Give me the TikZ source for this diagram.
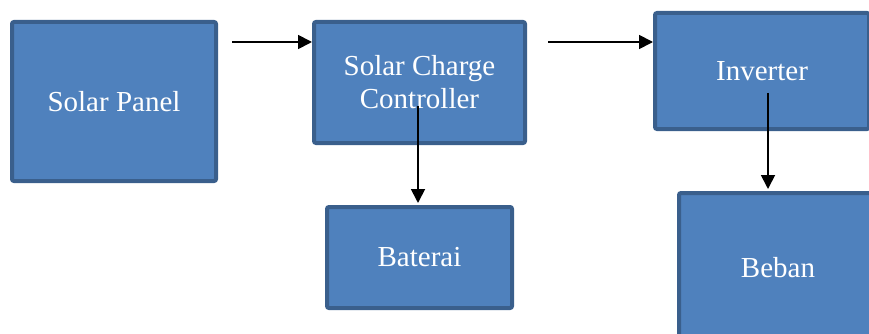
\documentclass[tikz,border=0pt]{standalone}
\usepackage{fontspec}
\setmainfont{Liberation Serif}
\usetikzlibrary{arrows.meta,positioning,calc}
\definecolor{boxfill}{HTML}{4F81BD}
\definecolor{boxline}{HTML}{3A5F8C}

\begin{document}
\begin{tikzpicture}[x=1pt, y=-1pt,
    block/.style={draw=boxline, fill=boxfill, line width=4pt, rounded corners=2pt,
      text=white, align=center, font=\fontsize{29}{33}\selectfont},
    flow/.style={-{Triangle[length=14pt,width=14pt]}, line width=1.8pt}]
            \useasboundingbox (0,0) rectangle (869,334);
            \clip (0,0) rectangle (869,334);
            % Panel
            \node[block, minimum width=204pt, minimum height=159pt] (panel) at (114,101.5) {Solar Panel};
            % Controller
            \node[block, minimum width=211pt, minimum height=121pt] (scc) at (419.5,82.5) {Solar Charge\\Controller};
            % Inverter
            \node[block, minimum width=214pt, minimum height=116pt] (inv) at (762,71) {Inverter};
            % Battery and load
            \node[block, minimum width=185pt, minimum height=101pt] (bat) at (419.5,257.5) {Baterai};
            \node[block, minimum width=198pt, minimum height=150pt] (beb) at (778,268) {Beban};

            % free ends of the arrows
            \coordinate (a1) at (232,42);
            \coordinate (a2) at (548,42);
            \coordinate (a3) at (418,106);
            \coordinate (a4) at (768,93);

            \draw[flow] (a1) -- (scc.west |- a1);
            \draw[flow] (a2) -- (inv.west |- a2);
            \draw[flow] (a3) -- ($(a3 |- bat.north)+(0,-2)$);
            \draw[flow] (a4) -- ($(a4 |- beb.north)+(0,-2)$);
        \end{tikzpicture}
\end{document}
